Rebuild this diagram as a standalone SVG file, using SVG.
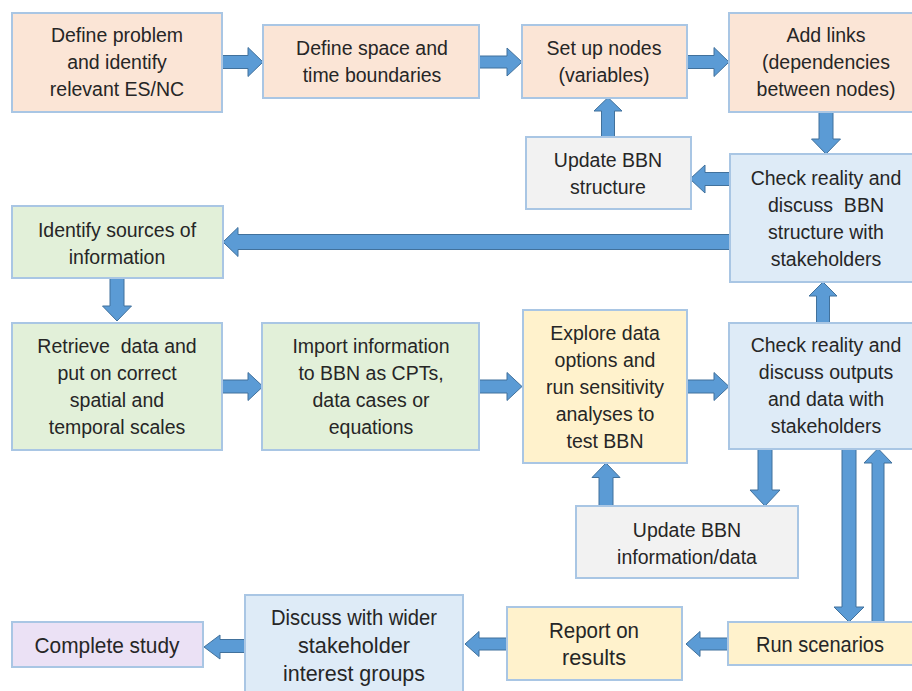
<svg xmlns="http://www.w3.org/2000/svg" width="912" height="691" viewBox="0 0 912 691">
<style>
.b{stroke:#A9C6E4;stroke-width:2}
.pe{fill:#FBE5D6}.bl{fill:#DEEBF7}.gr{fill:#E2F0D9}.ye{fill:#FFF2CC}.gy{fill:#F2F2F2}.pu{fill:#EBE1F5}
text{font-family:"Liberation Sans",Arial,sans-serif;font-size:19.5px;fill:#262626;text-anchor:middle}
.c{font-size:22px}
.ar{fill:#5B9BD5;stroke:#41719C;stroke-width:1}
</style>
<rect width="912" height="691" fill="#fff"/>
<g id="connectors">
<polygon class="ar" points="222,55.5 248,55.5 248,47.5 263,62 248,76.5 248,68.5 222,68.5"/>
<polygon class="ar" points="479,56 507,56 507,48 522,62 507,76 507,68 479,68"/>
<polygon class="ar" points="687,55.5 714,55.5 714,47.5 729,62 714,76.5 714,68.5 687,68.5"/>
<polygon class="ar" points="819,112 833,112 833,139 840.5,139 826,154 811.5,139 819,139"/>
<polygon class="ar" points="730,172.5 705,172.5 705,165 690,179 705,193 705,185.5 730,185.5"/>
<polygon class="ar" points="601.5,137 614.5,137 614.5,111 622,111 608,97.5 594,111 601.5,111"/>
<polygon class="ar" points="730,234.5 238,234.5 238,227.5 223,242 238,256.5 238,249.5 730,249.5"/>
<polygon class="ar" points="110,278 124,278 124,306 131.5,306 117,321 102.5,306 110,306"/>
<polygon class="ar" points="222,380 248,380 248,372.5 263,386.5 248,400.5 248,393 222,393"/>
<polygon class="ar" points="479,380 507,380 507,372.5 522,386.5 507,400.5 507,393 479,393"/>
<polygon class="ar" points="687,380 714,380 714,372.5 729,386.5 714,400.5 714,393 687,393"/>
<polygon class="ar" points="816.5,323 829.5,323 829.5,296 837,296 823,282 809,296 816.5,296"/>
<polygon class="ar" points="599,506 613,506 613,477.5 620,477.5 606,463 592,477.5 599,477.5"/>
<polygon class="ar" points="758,449 772,449 772,490 780,490 765,506 750,490 758,490"/>
<polygon class="ar" points="842,449 856,449 856,607 864,607 849,622 834,607 842,607"/>
<polygon class="ar" points="872,622 884,622 884,463 892,463 878,448.5 864,463 872,463"/>
<polygon class="ar" points="728,638 700,638 700,631.5 686,644 700,656.5 700,650 728,650"/>
<polygon class="ar" points="507,638 479,638 479,631.5 465,644 479,656.5 479,650 507,650"/>
<polygon class="ar" points="245,639.5 220,639.5 220,635 204,647 220,659 220,652.5 245,652.5"/>
</g>
<g id="n1"><rect class="b pe" x="12" y="13" width="210" height="99"/>
<text x="117" y="42">Define problem</text><text x="117" y="69">and identify</text><text x="117" y="96">relevant ES/NC</text></g>
<g id="n2"><rect class="b pe" x="263" y="25" width="216" height="73"/>
<text x="372" y="55">Define space and</text><text x="372" y="82">time boundaries</text></g>
<g id="n3"><rect class="b pe" x="522" y="25" width="165" height="73"/>
<text x="604" y="55">Set up nodes</text><text x="604" y="82">(variables)</text></g>
<g id="n4"><rect class="b pe" x="729" y="13" width="195" height="99"/>
<text x="826" y="42">Add links</text><text x="826" y="69">(dependencies</text><text x="826" y="96">between nodes)</text></g>
<g id="n5"><rect class="b gy" x="526" y="137" width="165" height="72"/>
<text x="608" y="167">Update BBN</text><text x="608" y="194">structure</text></g>
<g id="n6"><rect class="b bl" x="730" y="154" width="194" height="128"/>
<text x="826" y="185">Check reality and</text><text x="826" y="212">discuss&#160; BBN</text><text x="826" y="239">structure with</text><text x="826" y="266">stakeholders</text></g>
<g id="n7"><rect class="b gr" x="12" y="206" width="211" height="72"/>
<text x="117" y="237">Identify sources of</text><text x="117" y="264">information</text></g>
<g id="n8"><rect class="b gr" x="12" y="323" width="210" height="127"/>
<text x="117" y="353">Retrieve&#160; data and</text><text x="117" y="380">put on correct</text><text x="117" y="407">spatial and</text><text x="117" y="434">temporal scales</text></g>
<g id="n9"><rect class="b gr" x="262" y="323" width="217" height="127"/>
<text x="371" y="353">Import information</text><text x="371" y="380">to BBN as CPTs,</text><text x="371" y="407">data cases or</text><text x="371" y="434">equations</text></g>
<g id="n10"><rect class="b ye" x="523" y="310" width="164" height="153"/>
<text x="605" y="340">Explore data</text><text x="605" y="367">options and</text><text x="605" y="394">run sensitivity</text><text x="605" y="421">analyses to</text><text x="605" y="448">test BBN</text></g>
<g id="n11"><rect class="b bl" x="729" y="323" width="195" height="126"/>
<text x="826" y="352">Check reality and</text><text x="826" y="379">discuss outputs</text><text x="826" y="406">and data with</text><text x="826" y="433">stakeholders</text></g>
<g id="n12"><rect class="b gy" x="576" y="506" width="222" height="72"/>
<text x="687" y="537">Update BBN</text><text x="687" y="564">information/data</text></g>
<g id="n13"><rect class="b ye" x="728" y="622" width="196" height="43"/>
<text class="c" x="820" y="652" textLength="128" lengthAdjust="spacingAndGlyphs">Run scenarios</text></g>
<g id="n14"><rect class="b ye" x="507" y="607" width="175" height="73"/>
<text class="c" x="594" y="638" textLength="90" lengthAdjust="spacingAndGlyphs">Report on</text><text class="c" x="594" y="665" textLength="64" lengthAdjust="spacingAndGlyphs">results</text></g>
<g id="n15"><rect class="b bl" x="245" y="595" width="218" height="100"/>
<text class="c" x="354" y="625" textLength="166" lengthAdjust="spacingAndGlyphs">Discuss with wider</text><text class="c" x="354" y="653" textLength="112" lengthAdjust="spacingAndGlyphs">stakeholder</text><text class="c" x="354" y="681" textLength="142" lengthAdjust="spacingAndGlyphs">interest groups</text></g>
<g id="n16"><rect class="b pu" x="12" y="622" width="191" height="45"/>
<text class="c" x="107" y="653" textLength="145" lengthAdjust="spacingAndGlyphs">Complete study</text></g>
</svg>
